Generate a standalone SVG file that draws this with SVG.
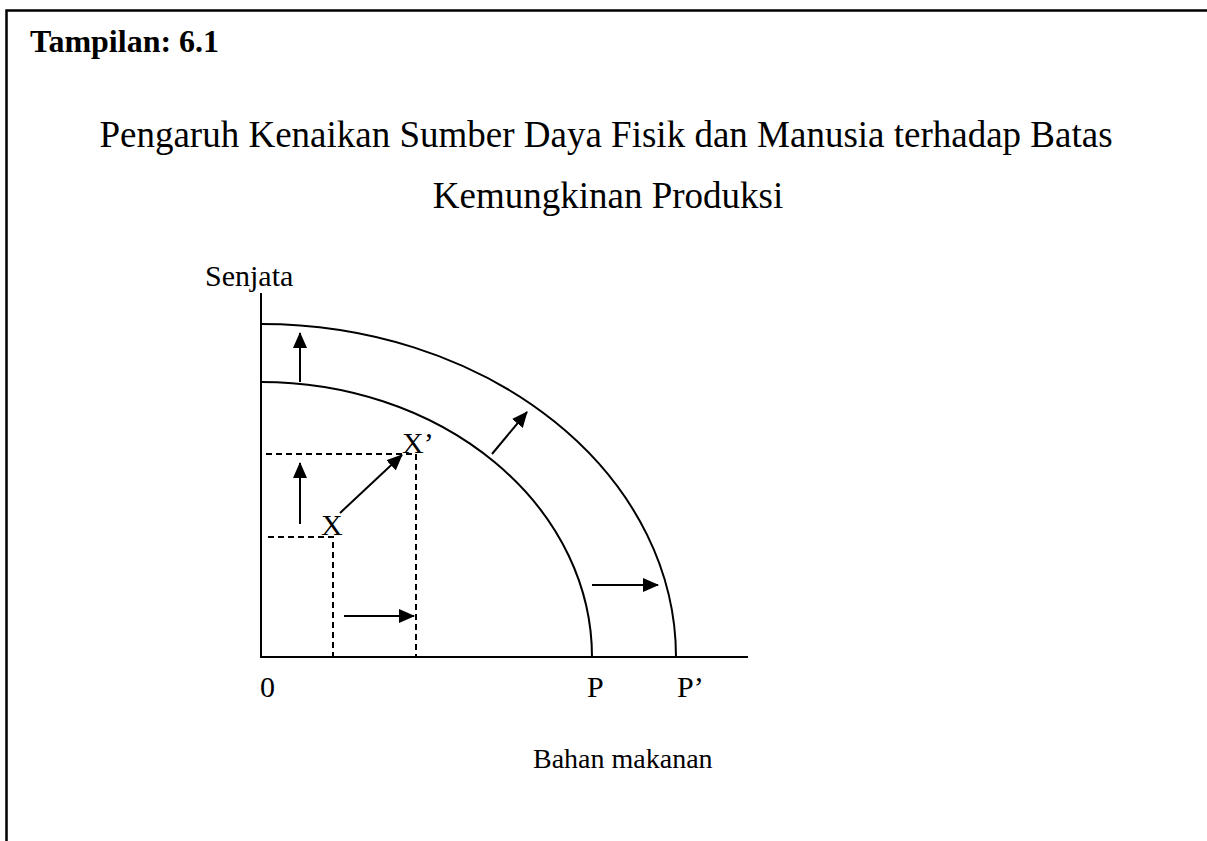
<svg xmlns="http://www.w3.org/2000/svg" width="1207" height="841" viewBox="0 0 1207 841">
<style>
.t{font-family:"Liberation Serif","Times New Roman",serif;fill:#000}
.ln{fill:none;stroke:#000;stroke-width:2}
.ar{fill:none;stroke:#000;stroke-width:2;marker-end:url(#ah)}
.ds{fill:none;stroke:#000;stroke-width:2;stroke-dasharray:6,4}
</style>
<defs>
<marker id="ah" markerUnits="userSpaceOnUse" markerWidth="16" markerHeight="14" refX="15" refY="7" orient="auto">
<path d="M0,0 L16,7 L0,14 Z" fill="#000"/>
</marker>
</defs>
<rect width="1207" height="841" fill="#fff"/>
<path d="M6.5,841 V10.5 H1207" fill="none" stroke="#000" stroke-width="2.5"/>
<g id="titles">
<text class="t" x="30" y="52" font-size="32" font-weight="bold">Tampilan: 6.1</text>
<text class="t" x="606" y="147" font-size="37" text-anchor="middle">Pengaruh Kenaikan Sumber Daya Fisik dan Manusia terhadap Batas</text>
<text class="t" x="608" y="208" font-size="37" text-anchor="middle">Kemungkinan Produksi</text>
</g>
<g id="axes">
<path class="ln" d="M261,293 V657 H748"/>
<text class="t" x="205" y="286" font-size="30">Senjata</text>
<text class="t" x="260" y="697" font-size="30">0</text>
<text class="t" x="587" y="697" font-size="30">P</text>
<text class="t" x="677" y="697" font-size="30">P’</text>
<text class="t" x="533" y="768" font-size="28">Bahan makanan</text>
</g>
<g id="curve-inner"><path class="ln" d="M261,382 A331,275 0 0 1 592,657"/></g>
<g id="curve-outer"><path class="ln" d="M261,324 A415,333 0 0 1 676,657"/></g>
<g id="point-x">
<path class="ds" d="M268,537 H333 V657"/>
<text class="t" x="321" y="535" font-size="30">X</text>
</g>
<g id="point-x2">
<path class="ds" d="M266,454 H416 V657"/>
<text class="t" x="402" y="453" font-size="30">X’</text>
</g>
<g id="connectors">
<path class="ar" d="M300,382 V333"/>
<path class="ar" d="M300,524 V463"/>
<path class="ar" d="M340,513 L402,455"/>
<path class="ar" d="M344,616 H414"/>
<path class="ar" d="M592,585 H658"/>
<path class="ar" d="M492,454 L527,412"/>
</g>
</svg>
